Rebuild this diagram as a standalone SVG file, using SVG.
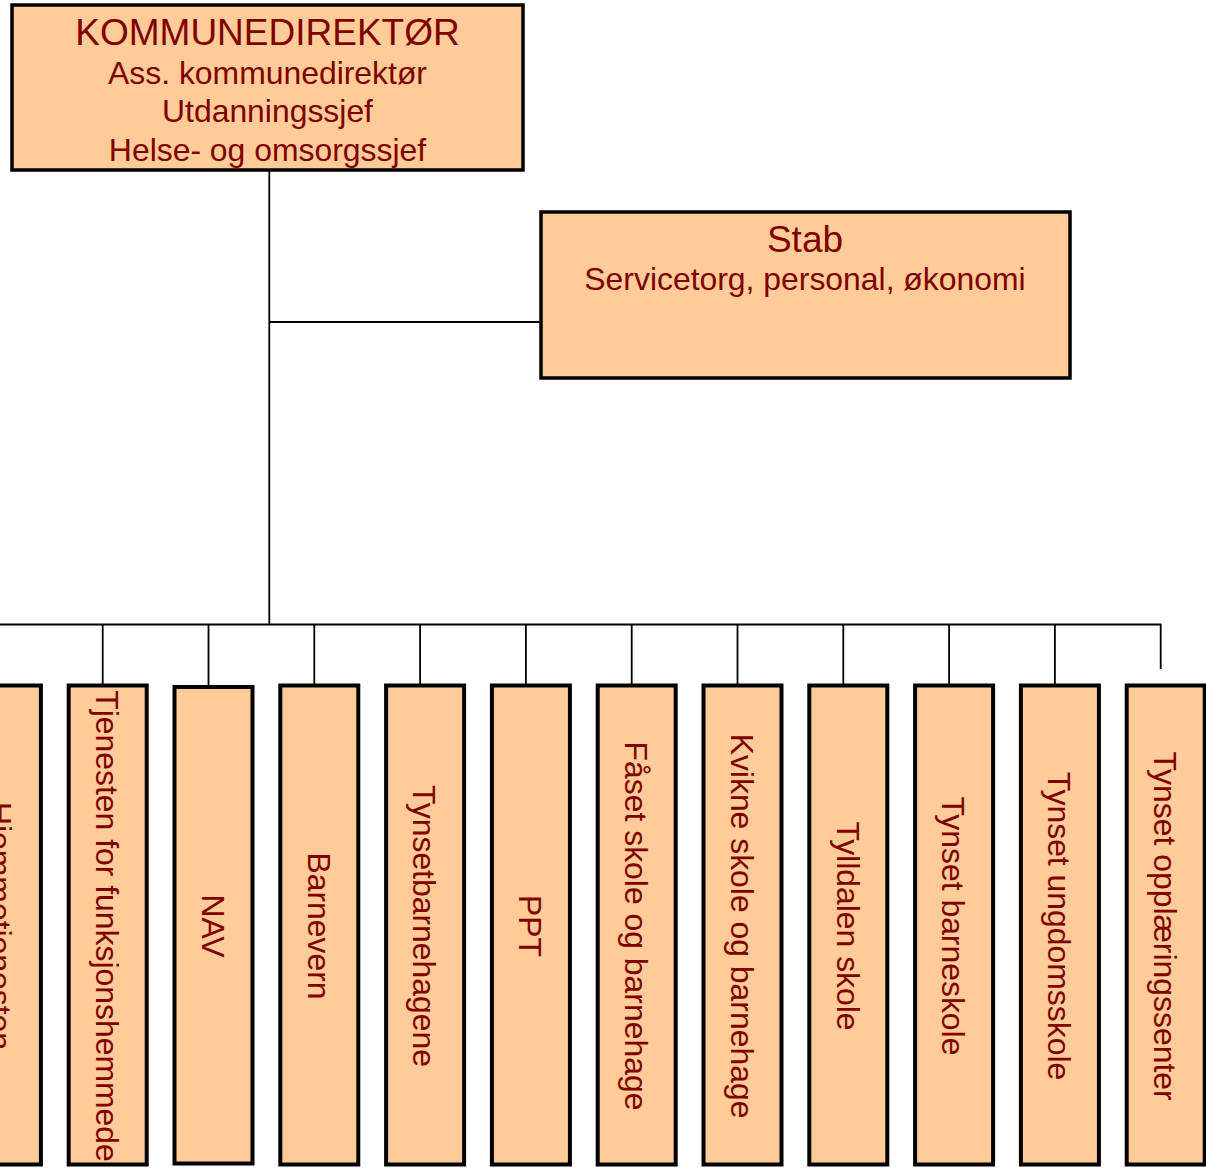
<svg xmlns="http://www.w3.org/2000/svg" width="1206" height="1169" viewBox="0 0 1206 1169">
<style>
.box{fill:#FFCC99;stroke:#000;stroke-width:3.5}
.ubox{fill:#FFCC99;stroke:#000;stroke-width:4}
.t{font-family:"Liberation Sans",Arial,sans-serif;fill:#800000;text-anchor:middle}
.big{font-size:37px}
.sm{font-size:31.9px}
.con{stroke:#000;stroke-width:1.8;fill:none}
</style>
<rect width="1206" height="1169" fill="#fff"/>
<g id="connectors">
<line class="con" x1="269.3" y1="171" x2="269.3" y2="624.5"/>
<line class="con" x1="269.3" y1="322" x2="541" y2="322"/>
<line class="con" x1="0" y1="624.5" x2="1161.5" y2="624.5"/>
<line class="con" x1="102.7" y1="624.5" x2="102.7" y2="685"/>
<line class="con" x1="208.5" y1="624.5" x2="208.5" y2="687"/>
<line class="con" x1="314.3" y1="624.5" x2="314.3" y2="685"/>
<line class="con" x1="420.1" y1="624.5" x2="420.1" y2="685"/>
<line class="con" x1="525.9" y1="624.5" x2="525.9" y2="685"/>
<line class="con" x1="631.7" y1="624.5" x2="631.7" y2="685"/>
<line class="con" x1="737.5" y1="624.5" x2="737.5" y2="685"/>
<line class="con" x1="843.3" y1="624.5" x2="843.3" y2="685"/>
<line class="con" x1="949.1" y1="624.5" x2="949.1" y2="685"/>
<line class="con" x1="1054.9" y1="624.5" x2="1054.9" y2="685"/>
<line class="con" x1="1160.7" y1="624.5" x2="1160.7" y2="669"/>
</g>
<g id="kommunedirektor">
<rect class="box" x="12" y="5" width="511" height="165"/>
<text class="t big" x="267.5" y="45">KOMMUNEDIREKTØR</text>
<text class="t sm" x="267.5" y="84">Ass. kommunedirektør</text>
<text class="t sm" x="267.5" y="122">Utdanningssjef</text>
<text class="t sm" x="267.5" y="161">Helse- og omsorgssjef</text>
</g>
<g id="stab">
<rect class="box" x="541" y="212" width="529" height="166"/>
<text class="t big" x="805" y="252">Stab</text>
<text class="t sm" x="805" y="290">Servicetorg, personal, økonomi</text>
</g>
<g id="hjemmetjenesten">
<rect class="ubox" x="-37.1" y="685.5" width="78" height="479"/>
<text class="t sm" transform="translate(0,926) rotate(90)" y="11">Hjemmetjenesten</text>
</g>
<g id="funksjonshemmede">
<rect class="ubox" x="68.7" y="685.5" width="78" height="479"/>
<text class="t sm" transform="translate(107,926) rotate(90)" y="11">Tjenesten for funksjonshemmede</text>
</g>
<g id="nav">
<rect class="ubox" x="174.5" y="687" width="78" height="476.5"/>
<text class="t sm" transform="translate(212.5,926) rotate(90)" y="11">NAV</text>
</g>
<g id="barnevern">
<rect class="ubox" x="280.3" y="685.5" width="78" height="479"/>
<text class="t sm" transform="translate(318.5,926) rotate(90)" y="11">Barnevern</text>
</g>
<g id="tynsetbarnehagene">
<rect class="ubox" x="386.1" y="685.5" width="78" height="479"/>
<text class="t sm" transform="translate(424.3,926) rotate(90)" y="11">Tynsetbarnehagene</text>
</g>
<g id="ppt">
<rect class="ubox" x="491.9" y="685.5" width="78" height="479"/>
<text class="t sm" transform="translate(530.1,926) rotate(90)" y="11">PPT</text>
</g>
<g id="faaset">
<rect class="ubox" x="597.7" y="685.5" width="78" height="479"/>
<text class="t sm" transform="translate(635.9,926) rotate(90)" y="11">Fåset skole og barnehage</text>
</g>
<g id="kvikne">
<rect class="ubox" x="703.5" y="685.5" width="78" height="479"/>
<text class="t sm" transform="translate(741.7,926) rotate(90)" y="11">Kvikne skole og barnehage</text>
</g>
<g id="tylldalen">
<rect class="ubox" x="809.3" y="685.5" width="78" height="479"/>
<text class="t sm" transform="translate(847.5,926) rotate(90)" y="11">Tylldalen skole</text>
</g>
<g id="tynsetbarneskole">
<rect class="ubox" x="915.1" y="685.5" width="78" height="479"/>
<text class="t sm" transform="translate(953.3,926) rotate(90)" y="11">Tynset barneskole</text>
</g>
<g id="tynsetungdomsskole">
<rect class="ubox" x="1020.9" y="685.5" width="78" height="479"/>
<text class="t sm" transform="translate(1059.1,926) rotate(90)" y="11">Tynset ungdomsskole</text>
</g>
<g id="opplaeringssenter">
<rect class="ubox" x="1126.7" y="685.5" width="78" height="479"/>
<text class="t sm" transform="translate(1164.9,926) rotate(90)" y="11">Tynset opplæringssenter</text>
</g>
</svg>
